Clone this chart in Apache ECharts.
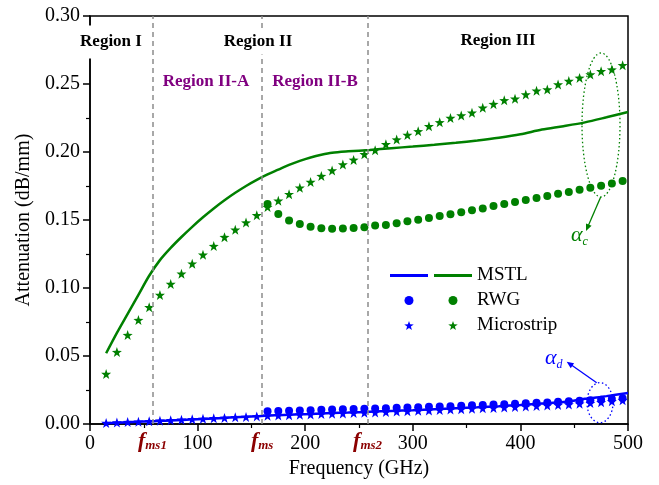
<!DOCTYPE html>
<html><head><meta charset="utf-8">
<script src="https://cdn.jsdelivr.net/npm/echarts@6/dist/echarts.min.js"></script>
<style>html,body{margin:0;padding:0;background:#fff}#c{width:659px;height:485px}</style>
</head><body><div id="c"></div>
<script>
// ---- data ----
const starFreq = [15,25,35,45,55,65,75,85,95,105,115,125,135,145,155,165,175,185,195,205,215,225,235,245,255,265,275,285,295,305,315,325,335,345,355,365,375,385,395,405,415,425,435,445,455,465,475,485,495];
const microGreen = [0.0368,0.0529,0.0654,0.0764,0.0859,0.0949,0.1030,0.1105,0.1179,0.1245,0.1308,0.1374,0.1428,0.1481,0.1535,0.1595,0.1642,0.1690,0.1737,0.1780,0.1823,0.1864,0.1908,0.1942,0.1984,0.2013,0.2057,0.2091,0.2125,0.2152,0.2189,0.2218,0.2250,0.2269,0.2289,0.2326,0.2352,0.2380,0.2392,0.2423,0.2450,0.2460,0.2496,0.2522,0.2545,0.2570,0.2594,0.2606,0.2638];
const microBlue = [0.0008,0.0011,0.0014,0.0017,0.0021,0.0024,0.0028,0.0031,0.0035,0.0038,0.0042,0.0045,0.0049,0.0052,0.0056,0.0061,0.0063,0.0065,0.0068,0.0070,0.0073,0.0075,0.0078,0.0080,0.0083,0.0085,0.0088,0.0091,0.0094,0.0097,0.0100,0.0103,0.0106,0.0109,0.0112,0.0115,0.0118,0.0121,0.0125,0.0128,0.0132,0.0136,0.0140,0.0144,0.0149,0.0154,0.0160,0.0167,0.0175];
const rwgFreq = [165,175,185,195,205,215,225,235,245,255,265,275,285,295,305,315,325,335,345,355,365,375,385,395,405,415,425,435,445,455,465,475,485,495];
const rwgGreen = [0.1618,0.1545,0.1496,0.1470,0.1450,0.1440,0.1436,0.1437,0.1442,0.1447,0.1459,0.1464,0.1476,0.1491,0.1501,0.1515,0.1530,0.1542,0.1557,0.1572,0.1584,0.1603,0.1618,0.1632,0.1647,0.1662,0.1676,0.1693,0.1706,0.1723,0.1737,0.1752,0.1769,0.1786];
const rwgBlue = [0.0094,0.0096,0.0098,0.0100,0.0102,0.0104,0.0106,0.0108,0.0110,0.0112,0.0114,0.0116,0.0119,0.0121,0.0124,0.0126,0.0129,0.0131,0.0134,0.0137,0.0140,0.0143,0.0146,0.0149,0.0152,0.0156,0.0159,0.0163,0.0167,0.0171,0.0175,0.0179,0.0184,0.0190];
const lineFreq = [15,25,35,45,55,65,75,85,95,105,115,125,135,145,155,165,175,185,195,205,215,225,240,260,280,300,320,340,360,380,400,420,440,460,480,500];
const mstlGreen = [0.052,0.067,0.081,0.095,0.109,0.1205,0.1295,0.1375,0.1450,0.1520,0.1585,0.1645,0.1700,0.1750,0.1795,0.1835,0.1870,0.1905,0.1935,0.1960,0.1980,0.1995,0.2005,0.2015,0.2028,0.2040,0.2053,0.2068,0.2085,0.2105,0.2130,0.2165,0.2190,0.2218,0.2255,0.2294];
const mstlBlue = [0.0006,0.0009,0.0012,0.0016,0.0019,0.0023,0.0026,0.0030,0.0034,0.0037,0.0041,0.0045,0.0049,0.0053,0.0057,0.0062,0.0065,0.0068,0.0071,0.0074,0.0077,0.0080,0.0084,0.0090,0.0096,0.0102,0.0109,0.0116,0.0123,0.0131,0.0140,0.0150,0.0161,0.0185,0.0205,0.0228];
const regionFreqs = [58, 160, 258];
const regionLabels = ['ms1', 'ms', 'ms2'];
const xTicks = [0, 100, 200, 300, 400, 500];
const yTicks = [0.00, 0.05, 0.10, 0.15, 0.20, 0.25, 0.30];

const zip = (xs, ys) => xs.map((x, i) => [x, ys[i]]);
const FONT = 'Liberation Serif';
const GREEN = '#008000', BLUE = '#0000ff', RED = '#8b0000', PURPLE = '#800080';
const STAR = 'path://M0,-10L2.35,-3.24L9.51,-3.09L3.8,1.24L5.88,8.09L0,4L-5.88,8.09L-3.8,1.24L-9.51,-3.09L-2.35,-3.24Z';
const LINE_ICON = 'path://M0,0H38V3H0Z';

const chart = echarts.init(document.getElementById('c'), null, {renderer: 'canvas'});
const fmsRich = {
  f: {fontFamily: FONT, fontSize: 22, fontStyle: 'italic', fontWeight: 'bold', color: RED, lineHeight: 22},
  s: {fontFamily: FONT, fontSize: 13, fontStyle: 'italic', fontWeight: 'bold', color: RED, lineHeight: 13, verticalAlign: 'bottom', padding: [6, 0, 0, 0]}
};

const option = {
  animation: false,
  backgroundColor: '#fff',
  grid: {left: 90, right: 31, top: 16, bottom: 61, show: true, borderColor: '#000', borderWidth: 1.5, backgroundColor: 'transparent'},
  xAxis: {
    type: 'value', min: xTicks[0], max: xTicks[xTicks.length - 1], interval: 100,
    name: 'Frequency (GHz)', nameLocation: 'middle', nameGap: 30,
    nameTextStyle: {fontFamily: FONT, fontSize: 20, color: '#000'},
    axisLine: {lineStyle: {color: '#000', width: 1.5}},
    axisTick: {length: 7, lineStyle: {color: '#000', width: 1.5}},
    minorTick: {show: true, splitNumber: 2, length: 4, lineStyle: {color: '#000', width: 1.2}},
    axisLabel: {fontFamily: FONT, fontSize: 20, color: '#000', margin: 10},
    splitLine: {show: false}
  },
  yAxis: {
    type: 'value', min: yTicks[0], max: yTicks[yTicks.length - 1], interval: 0.05,
    name: 'Attenuation (dB/mm)', nameLocation: 'middle', nameGap: 56,
    nameTextStyle: {fontFamily: FONT, fontSize: 20, color: '#000'},
    axisLine: {lineStyle: {color: '#000', width: 1.5}},
    axisTick: {length: 7, lineStyle: {color: '#000', width: 1.5}},
    minorTick: {show: true, splitNumber: 2, length: 4, lineStyle: {color: '#000', width: 1.2}},
    axisLabel: {fontFamily: FONT, fontSize: 20, color: '#000', margin: 10, formatter: v => v.toFixed(2)},
    splitLine: {show: false}
  },
  legend: [
    {
      left: 385, top: 258, orient: 'vertical', itemWidth: 38, itemHeight: 9, itemGap: 0,
      selectedMode: false, formatter: () => ' ',
      textStyle: {fontFamily: FONT, fontSize: 19, lineHeight: 25, color: '#000'},
      data: [{name: 'MSTL αd', icon: LINE_ICON}, 'RWG αd', 'Microstrip αd']
    },
    {
      left: 429, top: 258, orient: 'vertical', itemWidth: 38, itemHeight: 9, itemGap: 0,
      selectedMode: false, formatter: n => n.split(' ')[0],
      textStyle: {fontFamily: FONT, fontSize: 19, lineHeight: 25, color: '#000'},
      data: [{name: 'MSTL αc', icon: LINE_ICON}, 'RWG αc', 'Microstrip αc']
    }
  ],
  series: [
    {
      name: 'MSTL αc', type: 'line', data: zip(lineFreq, mstlGreen), symbol: 'none', smooth: 0.3, z: 2,
      lineStyle: {color: GREEN, width: 2.5}, itemStyle: {color: GREEN},
      markLine: {
        silent: true, symbol: ['none', 'none'],
        lineStyle: {type: [5, 4], color: '#8c8c8c', width: 1.5},
        label: {show: true, position: 'start', distance: 6, rich: fmsRich},
        data: regionFreqs.map((f, i) => ({xAxis: f, label: {formatter: '{f|f}{s|' + regionLabels[i] + '}'}}))
      }
    },
    {
      name: 'MSTL αd', type: 'line', data: zip(lineFreq, mstlBlue), symbol: 'none', smooth: 0.3, z: 2,
      lineStyle: {color: BLUE, width: 2.5}, itemStyle: {color: BLUE}
    },
    {name: 'RWG αc', type: 'scatter', data: zip(rwgFreq, rwgGreen), symbol: 'circle', symbolSize: 8, itemStyle: {color: GREEN, opacity: 1}, z: 3},
    {name: 'RWG αd', type: 'scatter', data: zip(rwgFreq, rwgBlue), symbol: 'circle', symbolSize: 8, itemStyle: {color: BLUE, opacity: 1}, z: 3},
    {name: 'Microstrip αc', type: 'scatter', data: zip(starFreq, microGreen), symbol: STAR, symbolSize: 10, itemStyle: {color: GREEN, opacity: 1}, z: 4},
    {name: 'Microstrip αd', type: 'scatter', data: zip(starFreq, microBlue), symbol: STAR, symbolSize: 10, itemStyle: {color: BLUE, opacity: 1}, z: 4}
  ],
  graphic: [
    {type: 'text', z: 100, style: {text: 'Region I', x: 111, y: 42, align: 'center', verticalAlign: 'middle', font: 'bold 17px "Liberation Serif"', fill: '#000', backgroundColor: '#fff', padding: [8, 2]}},
    {type: 'text', z: 100, style: {text: 'Region II', x: 258, y: 42, align: 'center', verticalAlign: 'middle', font: 'bold 17px "Liberation Serif"', fill: '#000', backgroundColor: '#fff', padding: [4, 2]}},
    {type: 'text', z: 100, style: {text: 'Region III', x: 498, y: 41, align: 'center', verticalAlign: 'middle', font: 'bold 17px "Liberation Serif"', fill: '#000'}},
    {type: 'text', z: 100, style: {text: 'Region II-A', x: 206, y: 82, align: 'center', verticalAlign: 'middle', font: 'bold 17px "Liberation Serif"', fill: PURPLE}},
    {type: 'text', z: 100, style: {text: 'Region II-B', x: 315, y: 82, align: 'center', verticalAlign: 'middle', font: 'bold 17px "Liberation Serif"', fill: PURPLE}},
    {type: 'ellipse', z: 100, shape: {cx: 601, cy: 125, rx: 19, ry: 72}, style: {fill: 'none', stroke: GREEN, lineWidth: 1.3, lineDash: [1.5, 2.5]}},
    {type: 'line', z: 100, shape: {x1: 600.7, y1: 197, x2: 587.5, y2: 227.5}, style: {stroke: GREEN, lineWidth: 1.3}},
    {type: 'polygon', z: 100, shape: {points: [[586, 231], [591.6, 225.8], [586.0, 223.4]]}, style: {fill: GREEN}},
    {type: 'text', z: 100, style: {text: '{a|α}{s|c}', x: 571, y: 235, verticalAlign: 'middle', rich: {
      a: {fontFamily: FONT, fontSize: 22, fontStyle: 'italic', fill: GREEN, color: GREEN},
      s: {fontFamily: FONT, fontSize: 12, fontStyle: 'italic', fill: GREEN, color: GREEN, padding: [14, 0, 0, 0]}}}},
    {type: 'ellipse', z: 100, shape: {cx: 600, cy: 402.7, rx: 13, ry: 20}, style: {fill: 'none', stroke: BLUE, lineWidth: 1.3, lineDash: [1.5, 2.5]}},
    {type: 'line', z: 100, shape: {x1: 596.7, y1: 382.7, x2: 570, y2: 364}, style: {stroke: BLUE, lineWidth: 1.3}},
    {type: 'polygon', z: 100, shape: {points: [[566.7, 361.7], [574.1, 363.2], [570.7, 368.2]]}, style: {fill: BLUE}},
    {type: 'text', z: 100, style: {text: '{a|α}{s|d}', x: 545, y: 358, verticalAlign: 'middle', rich: {
      a: {fontFamily: FONT, fontSize: 22, fontStyle: 'italic', fill: BLUE, color: BLUE},
      s: {fontFamily: FONT, fontSize: 12, fontStyle: 'italic', fill: BLUE, color: BLUE, padding: [14, 0, 0, 0]}}}}
  ]
};
chart.setOption(option);
</script>
</body></html>
